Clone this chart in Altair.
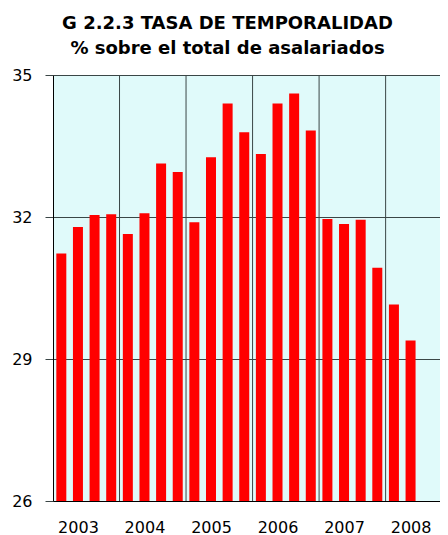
import altair as alt
import pandas as pd

years = ["2003", "2004", "2005", "2006", "2007", "2008"]
quarters_per_year = 4
values = [31.23, 31.79, 32.04, 32.06,
          31.64, 32.08, 33.13, 32.95,
          31.89, 33.26, 34.40, 33.79,
          33.33, 34.40, 34.61, 33.83,
          31.96, 31.85, 31.94, 30.93,
          30.15, 29.39]
y_ticks = [26, 29, 32, 35]
title_lines = ["G 2.2.3 TASA DE TEMPORALIDAD", "% sobre el total de asalariados"]

df = pd.DataFrame({"pos": [i + 0.5 for i in range(len(values))], "val": values})
bounds = pd.DataFrame({"b": [i * quarters_per_year for i in range(1, len(years))]})
label_pos = [i * quarters_per_year + 1.5 for i in range(len(years))]
label_expr = "{" + ",".join(f"'{p}':'{y}'" for p, y in zip(label_pos, years)) + "}[toString(datum.value)]"

xscale = alt.Scale(domain=[0, 23.27], nice=False, zero=False, padding=0)
yscale = alt.Scale(domain=[26, 35], nice=False, zero=False, padding=0)

bars = alt.Chart(df).mark_bar(color="#FF0000", size=10, clip=True).encode(
    x=alt.X("pos:Q", scale=xscale,
            axis=alt.Axis(values=label_pos, labelExpr=label_expr, title=None, grid=False,
                          ticks=False, labelPadding=18, labelFont="DejaVu Sans",
                          labelFontSize=16, labelColor="#000000", domainColor="#000000",
                          labelFlush=False, labelOverlap=False)),
    y=alt.Y("val:Q", scale=yscale,
            axis=alt.Axis(values=y_ticks, title=None, grid=True, gridColor="#3A4646",
                          gridOpacity=1, tickSize=8, tickColor="#3A4646", labelPadding=13,
                          labelFont="DejaVu Sans", labelFontSize=16, labelColor="#000000",
                          domainColor="#000000")),
    y2=alt.datum(26),
)

rules = alt.Chart(bounds).mark_rule(color="#3A4646", strokeWidth=1).encode(
    x=alt.X("b:Q", scale=xscale)
)

chart = alt.layer(rules, bars).properties(
    width=387, height=426,
    autosize=alt.AutoSizeParams(type="none"),
    padding={"left": 45, "top": 67, "right": 0, "bottom": 34},
    title=alt.TitleParams(text=title_lines, font="DejaVu Sans", fontWeight="bold",
                          fontSize=18, lineHeight=25, color="#000000", anchor="middle",
                          dx=-19, offset=9),
).configure_view(fill="#E0FAFA", stroke=None)

chart.save("out.html", embed_options={"renderer": "svg", "actions": False})
